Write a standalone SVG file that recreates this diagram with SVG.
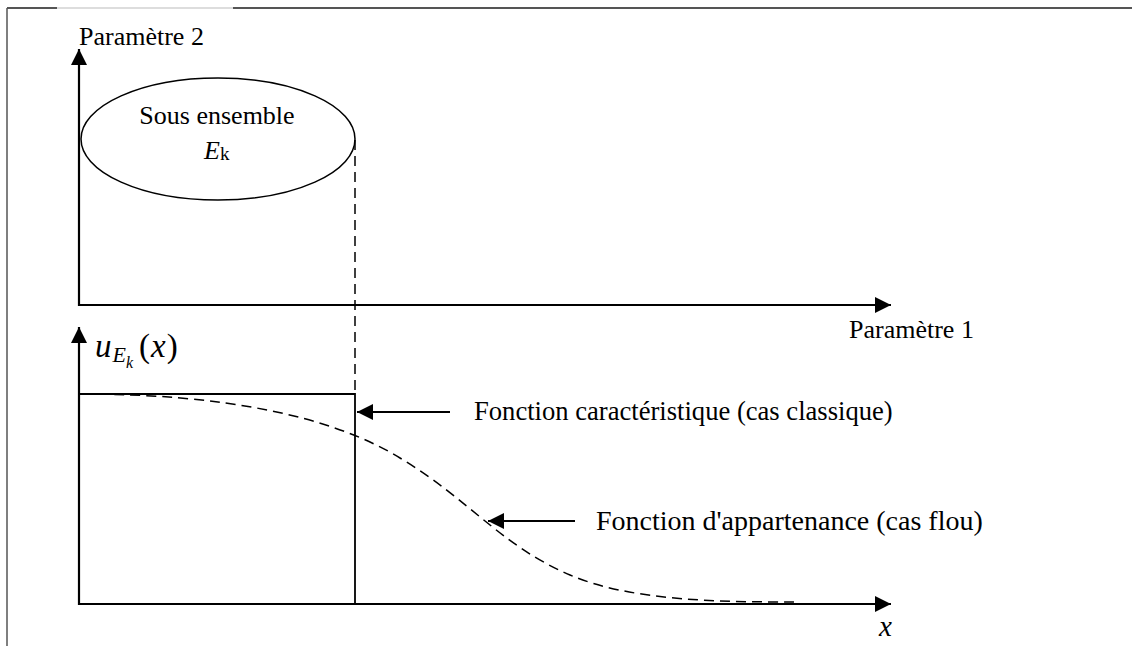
<svg xmlns="http://www.w3.org/2000/svg" width="1132" height="646" viewBox="0 0 1132 646">
  <style>
    .txt { font-family: "Liberation Serif", "Times New Roman", serif; font-size: 26px; fill: #000; }
    .note { font-size: 26.6px; }
    .note2 { font-size: 28px; }
    .math { font-family: "Liberation Serif", "Times New Roman", serif; font-style: italic; fill: #000; }
    .axis { stroke: #000; stroke-width: 2.2; fill: none; }
    .solid { stroke: #000; stroke-width: 1.8; fill: none; }
    .dash { stroke: #000; stroke-width: 1.5; fill: none; stroke-dasharray: 10 6; }
  </style>
  <defs>
    <marker id="tip" viewBox="0 0 10 10" refX="10" refY="5" markerWidth="16" markerHeight="16" markerUnits="userSpaceOnUse" orient="auto">
      <path d="M0,0 L10,5 L0,10 Z" fill="#000"/>
    </marker>
  </defs>
  <rect x="0" y="0" width="1132" height="646" fill="#fff"/>

  <!-- page frame -->
  <g id="frame">
    <line x1="7" y1="8" x2="57" y2="8" stroke="#555" stroke-width="2"/>
    <line x1="57" y1="8" x2="233" y2="8" stroke="#bbb" stroke-width="1"/>
    <line x1="233" y1="8" x2="1132" y2="8" stroke="#555" stroke-width="2"/>
    <line x1="7" y1="8" x2="7" y2="646" stroke="#555" stroke-width="1.5"/>
  </g>

  <!-- upper plot: parameter plane -->
  <g id="plane-axes">
    <line class="axis" x1="79" y1="306" x2="79" y2="49" marker-end="url(#tip)"/>
    <line class="axis" x1="78" y1="305" x2="891" y2="305" marker-end="url(#tip)"/>
    <text class="txt" x="79" y="45">Paramètre 2</text>
    <text class="txt" x="849" y="338">Paramètre 1</text>
  </g>

  <g id="subset">
    <ellipse cx="218" cy="139" rx="137" ry="61" fill="#fff" stroke="#000" stroke-width="1.5"/>
    <text class="txt" x="217" y="124" text-anchor="middle">Sous ensemble</text>
    <text x="204" y="159"><tspan class="math" font-size="26">E</tspan><tspan class="txt" style="font-size:19px" dy="1">k</tspan></text>
  </g>

  <!-- lower plot: membership functions -->
  <g id="membership-axes">
    <line class="axis" x1="79" y1="605" x2="79" y2="327" marker-end="url(#tip)"/>
    <line class="axis" x1="78" y1="604" x2="891" y2="604" marker-end="url(#tip)"/>
    <text x="95" y="357" class="math"><tspan font-size="33">u</tspan><tspan font-size="22" dy="5" dx="1">E</tspan><tspan font-size="16" dy="6">k</tspan><tspan font-size="33" dy="-11" dx="6" font-style="normal">(</tspan><tspan font-size="33" dx="1">x</tspan><tspan font-size="33" font-style="normal" dx="1">)</tspan></text>
    <text class="math" x="879" y="636" font-size="29">x</text>
  </g>

  <g id="crisp">
    <path class="solid" d="M80,394 H355 V604"/>
  </g>

  <g id="fuzzy">
    <path class="dash" d="M82,394 C220,394 330,415 400,458 C470,500 500,545 570,575 C630,601 720,602 795,602"/>
  </g>

  <g id="connectors">
    <line class="dash" x1="355" y1="140" x2="355" y2="393" stroke-dasharray="6 4"/>
    <line class="axis" x1="450" y1="412" x2="357" y2="412" marker-end="url(#tip)"/>
    <line class="axis" x1="575" y1="521" x2="488" y2="521" marker-end="url(#tip)"/>
  </g>

  <g id="labels">
    <text class="txt note" x="474" y="420">Fonction caractéristique (cas classique)</text>
    <text class="txt note2" x="596" y="530">Fonction d'appartenance (cas flou)</text>
  </g>
</svg>
